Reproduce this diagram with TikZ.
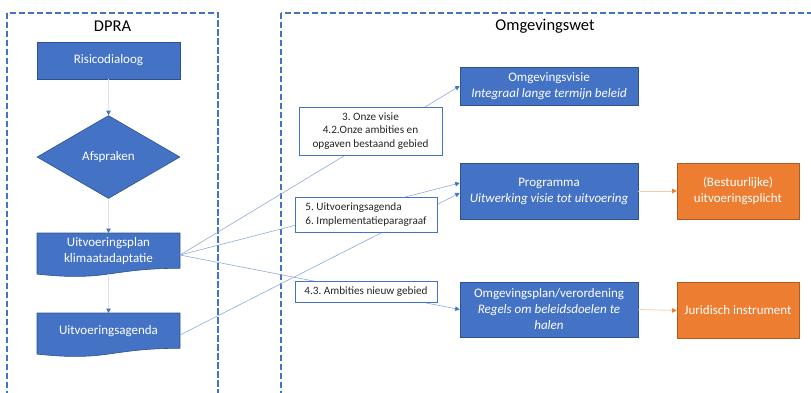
\documentclass[tikz,border=0pt]{standalone}
\usepackage{fontspec}
\setmainfont{Carlito}
\usetikzlibrary{shapes.geometric,arrows.meta,calc}
\definecolor{obl}{HTML}{4472C4}
\definecolor{obd}{HTML}{2F528F}
\definecolor{oor}{HTML}{ED7D31}
\definecolor{oord}{HTML}{AE5A21}
\definecolor{connc}{HTML}{8FAADC}
\definecolor{vconnc}{HTML}{DAE3F3}
\definecolor{oconnc}{HTML}{F8CBAD}
\frenchspacing
\tikzset{
  bluebox/.style={rectangle, fill=obl, draw=obd, line width=0.6pt, text=white, align=center, inner sep=2pt, font=\fontsize{13}{16}\selectfont},
  orangebox/.style={rectangle, fill=oor, draw=oord, line width=0.6pt, text=white, align=center, inner sep=2pt, font=\fontsize{13}{16}\selectfont},
  doctext/.style={text=white, align=center, inner sep=1pt, font=\fontsize{13}{16}\selectfont},
  docshape/.style={fill=obl, draw=obd, line width=0.6pt},
  labelbox/.style={rectangle, fill=white, draw=obl, line width=0.6pt, text=black!85, inner sep=0pt, font=\fontsize{11.2}{13.6}\selectfont},
  framebox/.style={draw=obl, line width=2pt, dash pattern=on 6.5pt off 2.5pt},
  titletext/.style={font=\fontsize{16.5}{20}\selectfont, text=black},
  bconn/.style={draw=connc, line width=0.6pt, -{Triangle[length=4.5pt,width=4.5pt,color=obl]}},
  vconn/.style={draw=vconnc, line width=0.8pt, -{Triangle[length=4.5pt,width=4.5pt,color=obl]}},
  oconn/.style={draw=oconnc, line width=0.8pt, -{Triangle[length=4.5pt,width=4.5pt,color=oor]}}
}
\begin{document}
\begin{tikzpicture}[x=1pt,y=-1pt]
\useasboundingbox (0,0) rectangle (811,392);
\clip (0,0) rectangle (811,392);
% frames
\draw[framebox] (7,12.5) rectangle (218,400);
\draw[framebox] (281,12.5) rectangle (830,400);
\node[titletext] (tdpra) at (112.5,26.5) {DPRA};
\node[titletext] (tomg) at (545,26) {Omgevingswet};
% DPRA column
\node[bluebox, minimum width=143pt, minimum height=37pt] (risico) at (108.5,60.5) {Risicodialoog};
\node[diamond, fill=obl, draw=obd, line width=0.6pt, text=white, inner sep=0pt, minimum width=143pt, minimum height=83pt, font=\fontsize{13}{16}\selectfont] (afspr) at (108.5,157) {Afspraken};
\path[docshape] (37,233) -- (180,233) -- (180,268.3) .. controls (108.5,268.3) and (108.5,281.7) .. (37,274.1) -- cycle;
\node[minimum width=143pt, minimum height=44pt, inner sep=0pt, outer sep=0pt] (uplan) at (108.5,255) {};
\node[doctext] (uplantxt) at (108.5,251) {Uitvoeringsplan\\klimaatadaptatie};
\coordinate (uplanb) at (108.5,274);
\path[docshape] (37,313) -- (180,313) -- (180,348.3) .. controls (108.5,348.3) and (108.5,361.7) .. (37,354.1) -- cycle;
\node[minimum width=143pt, minimum height=44pt, inner sep=0pt, outer sep=0pt] (uagenda) at (108.5,335) {};
\node[doctext] (uagendatxt) at (108.5,331) {Uitvoeringsagenda};
% Omgevingswet column
\node[bluebox, minimum width=178pt, minimum height=38pt] (visie) at (549,86) {Omgevingsvisie\\\textit{Integraal lange termijn beleid}};
\node[bluebox, minimum width=178pt, minimum height=56pt] (prog) at (549,191) {Programma\\\textit{Uitwerking visie tot uitvoering}};
\node[bluebox, minimum width=178pt, minimum height=55pt] (oplan) at (549,309.5) {Omgevingsplan/verordening\\\textit{Regels om beleidsdoelen te}\\\textit{halen}};
\node[orangebox, minimum width=122pt, minimum height=56pt] (plicht) at (738,191) {(Bestuurlijke)\\uitvoeringsplicht};
\node[orangebox, minimum width=122pt, minimum height=56pt] (jur) at (738,310.5) {Juridisch instrument};
% vertical connectors
\draw[vconn] (risico.south) -- (afspr.north);
\draw[vconn] (afspr.south) -- (uplan.north);
\draw[vconn] (uplanb) -- (uagenda.north);
% cross connectors
\draw[bconn] (uplan.east) -- (visie.west);
\draw[bconn] (uplan.east) -- ([yshift=8pt]prog.west);
\draw[bconn] (uagenda.east) -- ([yshift=-2pt]prog.west);
\draw[bconn] (uplan.east) -- (oplan.west);
\draw[oconn] (prog.east) -- (plicht.west);
\draw[oconn] (oplan.east) -- (jur.west);
% label boxes
\node[labelbox, minimum width=143pt, minimum height=48pt, align=center] (lab1) at (370.5,131) {3. Onze visie\\4.2.Onze ambities en\\opgaven bestaand gebied};
\node[labelbox, minimum width=142pt, minimum height=35pt, align=left] (lab2) at (366,214.5) {5. Uitvoeringsagenda\\6. Implementatieparagraaf};
\node[labelbox, minimum width=142pt, minimum height=21pt, align=left] (lab3) at (366,291.5) {4.3. Ambities nieuw gebied};
\end{tikzpicture}
\end{document}
